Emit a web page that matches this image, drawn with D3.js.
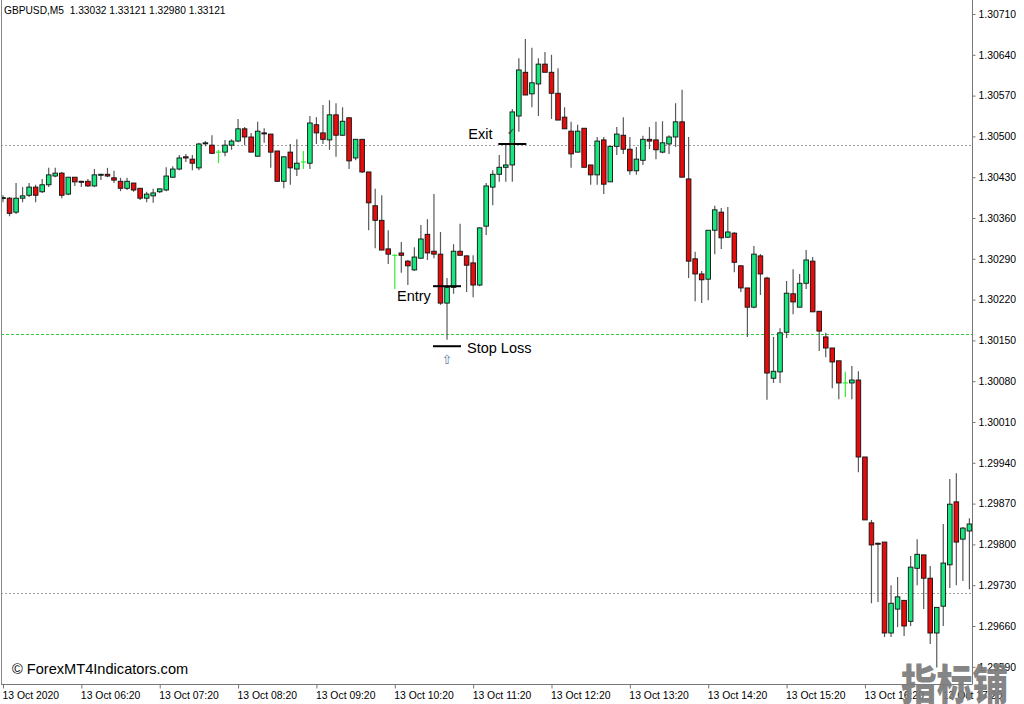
<!DOCTYPE html>
<html><head><meta charset="utf-8">
<script src="https://cdn.jsdelivr.net/npm/d3@7"></script>
<style>html,body{margin:0;padding:0;background:#fff;}svg{display:block;}</style>
</head><body>
<script>
const title = "GBPUSD,M5  1.33032 1.33121 1.32980 1.33121";
const open = [1.30394,1.30394,1.30370,1.30394,1.30399,1.30413,1.30405,1.30417,1.30432,1.30437,1.30401,1.30430,1.30423,1.30423,1.30415,1.30434,1.30435,1.30429,1.30423,1.30411,1.30420,1.30411,1.30394,1.30398,1.30405,1.30408,1.30430,1.30444,1.30465,1.30461,1.30446,1.30488,1.30485,1.30473,1.30473,1.30485,1.30492,1.30513,1.30499,1.30466,1.30506,1.30504,1.30475,1.30423,1.30473,1.30444,1.30456,1.30454,1.30520,1.30506,1.30494,1.30537,1.30502,1.30532,1.30463,1.30495,1.30439,1.30381,1.30356,1.30307,1.30296,1.30300,1.30286,1.30271,1.30291,1.30332,1.30303,1.30298,1.30214,1.30241,1.30303,1.30295,1.30283,1.30245,1.30346,1.30413,1.30435,1.30447,1.30451,1.30535,1.30610,1.30573,1.30590,1.30624,1.30610,1.30574,1.30533,1.30509,1.30473,1.30514,1.30451,1.30434,1.30494,1.30422,1.30483,1.30502,1.30478,1.30441,1.30459,1.30495,1.30494,1.30473,1.30487,1.30499,1.30525,1.30427,1.30290,1.30264,1.30255,1.30339,1.30370,1.30327,1.30334,1.30278,1.30240,1.30207,1.30295,1.30257,1.30085,1.30096,1.30164,1.30230,1.30207,1.30248,1.30286,1.30200,1.30156,1.30137,1.30115,1.30077,1.30077,1.30082,1.29950,1.29837,1.29802,1.29804,1.29648,1.29689,1.29704,1.29668,1.29759,1.29782,1.29742,1.29648,1.29694,1.29765,1.29873,1.29809,1.29823];
const high = [1.30399,1.30396,1.30420,1.30413,1.30420,1.30417,1.30427,1.30446,1.30446,1.30439,1.30430,1.30430,1.30424,1.30427,1.30444,1.30436,1.30446,1.30441,1.30429,1.30429,1.30420,1.30411,1.30405,1.30410,1.30410,1.30447,1.30449,1.30468,1.30470,1.30468,1.30489,1.30492,1.30502,1.30477,1.30494,1.30495,1.30530,1.30516,1.30506,1.30525,1.30514,1.30504,1.30475,1.30465,1.30487,1.30495,1.30475,1.30535,1.30533,1.30554,1.30562,1.30557,1.30550,1.30532,1.30495,1.30495,1.30439,1.30410,1.30399,1.30339,1.30298,1.30319,1.30288,1.30310,1.30348,1.30358,1.30401,1.30336,1.30257,1.30315,1.30350,1.30296,1.30296,1.30344,1.30420,1.30442,1.30468,1.30485,1.30547,1.30634,1.30667,1.30652,1.30634,1.30645,1.30640,1.30617,1.30550,1.30525,1.30520,1.30514,1.30451,1.30499,1.30499,1.30483,1.30516,1.30533,1.30499,1.30482,1.30501,1.30516,1.30525,1.30526,1.30502,1.30557,1.30580,1.30499,1.30302,1.30269,1.30339,1.30381,1.30377,1.30379,1.30336,1.30279,1.30240,1.30312,1.30298,1.30259,1.30156,1.30171,1.30252,1.30272,1.30264,1.30305,1.30293,1.30200,1.30163,1.30137,1.30115,1.30096,1.30106,1.30097,1.29950,1.29842,1.29803,1.29804,1.29730,1.29744,1.29704,1.29780,1.29809,1.29782,1.29763,1.29692,1.29835,1.29912,1.29922,1.29830,1.29845];
const low = [1.30387,1.30363,1.30367,1.30387,1.30396,1.30387,1.30403,1.30413,1.30430,1.30394,1.30399,1.30415,1.30413,1.30413,1.30413,1.30425,1.30430,1.30420,1.30406,1.30408,1.30405,1.30391,1.30387,1.30386,1.30403,1.30406,1.30429,1.30442,1.30456,1.30442,1.30442,1.30483,1.30470,1.30454,1.30466,1.30477,1.30490,1.30485,1.30473,1.30465,1.30489,1.30446,1.30422,1.30411,1.30417,1.30432,1.30444,1.30444,1.30487,1.30487,1.30477,1.30465,1.30501,1.30444,1.30459,1.30437,1.30339,1.30308,1.30305,1.30281,1.30238,1.30266,1.30245,1.30269,1.30290,1.30288,1.30291,1.30211,1.30151,1.30230,1.30296,1.30233,1.30224,1.30243,1.30331,1.30382,1.30422,1.30422,1.30422,1.30508,1.30571,1.30550,1.30535,1.30610,1.30530,1.30528,1.30513,1.30446,1.30473,1.30447,1.30417,1.30417,1.30401,1.30422,1.30468,1.30470,1.30434,1.30434,1.30451,1.30478,1.30461,1.30471,1.30470,1.30482,1.30430,1.30257,1.30217,1.30214,1.30219,1.30298,1.30307,1.30326,1.30267,1.30233,1.30156,1.30205,1.30228,1.30048,1.30077,1.30077,1.30154,1.30195,1.30207,1.30238,1.30199,1.30132,1.30121,1.30068,1.30049,1.30053,1.30049,1.29924,1.29842,1.29699,1.29701,1.29641,1.29641,1.29658,1.29643,1.29660,1.29730,1.29689,1.29629,1.29589,1.29660,1.29725,1.29730,1.29737,1.29723];
const close = [1.30395,1.30368,1.30394,1.30398,1.30413,1.30399,1.30417,1.30434,1.30437,1.30399,1.30430,1.30422,1.30422,1.30415,1.30434,1.30435,1.30432,1.30425,1.30411,1.30423,1.30408,1.30394,1.30401,1.30403,1.30410,1.30432,1.30444,1.30463,1.30463,1.30454,1.30487,1.30489,1.30471,1.30473,1.30485,1.30492,1.30513,1.30499,1.30473,1.30509,1.30505,1.30473,1.30423,1.30465,1.30446,1.30454,1.30456,1.30523,1.30506,1.30495,1.30537,1.30502,1.30526,1.30458,1.30495,1.30439,1.30386,1.30356,1.30305,1.30298,1.30296,1.30296,1.30278,1.30293,1.30324,1.30300,1.30298,1.30214,1.30241,1.30303,1.30296,1.30279,1.30245,1.30343,1.30415,1.30435,1.30447,1.30451,1.30542,1.30614,1.30571,1.30592,1.30624,1.30610,1.30574,1.30528,1.30513,1.30470,1.30509,1.30447,1.30434,1.30492,1.30418,1.30483,1.30504,1.30478,1.30441,1.30461,1.30495,1.30492,1.30477,1.30489,1.30499,1.30525,1.30430,1.30286,1.30264,1.30254,1.30339,1.30374,1.30326,1.30336,1.30284,1.30240,1.30207,1.30298,1.30264,1.30094,1.30097,1.30163,1.30231,1.30216,1.30248,1.30288,1.30199,1.30166,1.30137,1.30113,1.30077,1.30077,1.30082,1.29950,1.29842,1.29799,1.29801,1.29648,1.29699,1.29710,1.29660,1.29761,1.29783,1.29742,1.29648,1.29692,1.29768,1.29869,1.29804,1.29828,1.29835];

const priceTicks = [1.30710,1.30640,1.30570,1.30500,1.30430,1.30360,1.30290,1.30220,1.30150,1.30080,1.30010,1.29940,1.29870,1.29800,1.29730,1.29660,1.29590];
const timeTickIdx = [0,12,24,36,48,60,72,84,96,108,120,132,144];
const timeLabels = ["13 Oct 2020","13 Oct 06:20","13 Oct 07:20","13 Oct 08:20","13 Oct 09:20","13 Oct 10:20","13 Oct 11:20","13 Oct 12:20","13 Oct 13:20","13 Oct 14:20","13 Oct 15:20","13 Oct 16:20","13 Oct 17:20"];

const grayLevels = [1.30485, 1.29716];
const greenLevels = [1.30161];
const markNames = ["Exit","Entry","Stop Loss"];
const markIdx = [78, 68, 68];
const markPrice = [1.30487, 1.30243, 1.30140];

const W = 1024, H = 704;
const plotRight = 972, plotBottom = 684;
const FONT = "'Liberation Sans', Arial, sans-serif";

const x = d3.scaleLinear().domain([0, 148]).range([3, 969.4]);
const y = d3.scaleLinear().domain([1.29660, 1.30710]).range([626, 14]);

const svg = d3.select("body").append("svg").attr("width", W).attr("height", H)
  .style("font-family", FONT);
svg.append("rect").attr("width", W).attr("height", H).attr("fill", "#fff");

svg.append("defs").append("clipPath").attr("id", "plot")
  .append("rect").attr("x", 1).attr("y", 0).attr("width", plotRight - 1).attr("height", plotBottom);

const plot = svg.append("g").attr("clip-path", "url(#plot)");

plot.selectAll(".gl").data(grayLevels).enter().append("line")
  .attr("x1", 1).attr("x2", plotRight).attr("y1", d => Math.round(y(d)) + 0.5).attr("y2", d => Math.round(y(d)) + 0.5)
  .attr("stroke", "#a0a0a0").attr("stroke-width", 1).attr("stroke-dasharray", "2,2");
plot.selectAll(".gr").data(greenLevels).enter().append("line")
  .attr("x1", 1).attr("x2", plotRight).attr("y1", d => Math.round(y(d)) + 0.5).attr("y2", d => Math.round(y(d)) + 0.5)
  .attr("stroke", "#2ecc40").attr("stroke-width", 1).attr("stroke-dasharray", "3,2");

const candles = open.map((o, i) => ({i, o, h: high[i], l: low[i], c: close[i]}));

const cg = plot.selectAll(".c").data(candles).enter().append("g");
cg.append("line")
  .attr("x1", d => x(d.i)).attr("x2", d => x(d.i))
  .attr("y1", d => y(d.h)).attr("y2", d => y(d.l))
  .attr("stroke", d => d.o === d.c ? "#33ee33" : "#5a5a5a").attr("stroke-width", 1.2);
cg.filter(d => d.o === d.c).append("line")
  .attr("x1", d => x(d.i) - 2.5).attr("x2", d => x(d.i) + 2.5)
  .attr("y1", d => y(d.o)).attr("y2", d => y(d.o))
  .attr("stroke", "#33ee33").attr("stroke-width", 1.2);
cg.filter(d => d.o !== d.c).append("rect")
  .attr("x", d => x(d.i) - 2.3).attr("width", 4.6)
  .attr("y", d => Math.min(y(d.o), y(d.c)))
  .attr("height", d => Math.max(1, Math.abs(y(d.o) - y(d.c))))
  .attr("fill", d => d.c > d.o ? "#18e67e" : "#e50c0c")
  .attr("stroke", "#111").attr("stroke-width", 0.9);

const marks = markNames.map((n, k) => ({n, i: markIdx[k], p: markPrice[k]}));
plot.selectAll(".mk").data(marks).enter().append("line")
  .attr("x1", d => x(d.i) - 14).attr("x2", d => x(d.i) + 14)
  .attr("y1", d => y(d.p)).attr("y2", d => y(d.p))
  .attr("stroke", "#000").attr("stroke-width", 2);

const at = svg.append("g").attr("font-size", "14.5px").attr("fill", "#000");
at.append("text").attr("x", x(marks[0].i) - 44).attr("y", y(marks[0].p) - 5).text(marks[0].n);
at.append("text").attr("x", x(marks[1].i) - 50).attr("y", y(marks[1].p) + 15).text(marks[1].n);
at.append("text").attr("x", x(marks[2].i) + 20).attr("y", y(marks[2].p) + 7).text(marks[2].n);
svg.append("text").attr("x", x(marks[0].i) - 1).attr("y", y(marks[0].p) - 9)
  .attr("text-anchor", "middle").attr("font-size", "10px").attr("fill", "#333").text("✓");
svg.append("text").attr("x", x(marks[2].i)).attr("y", y(marks[2].p) + 18)
  .attr("text-anchor", "middle").attr("font-family", "'DejaVu Sans'").attr("font-size", "13px")
  .attr("fill", "#5b7fa8").text("⇧");

svg.append("line").attr("x1", 1.5).attr("x2", 1.5).attr("y1", 0).attr("y2", plotBottom).attr("stroke", "#888");
svg.append("line").attr("x1", plotRight + 0.5).attr("x2", plotRight + 0.5).attr("y1", 0).attr("y2", plotBottom + 0.5).attr("stroke", "#777");
svg.append("line").attr("x1", 1).attr("x2", plotRight + 0.5).attr("y1", plotBottom + 0.5).attr("y2", plotBottom + 0.5).attr("stroke", "#777");

const ya = svg.append("g").attr("transform", `translate(${plotRight + 0.5},0)`)
  .call(d3.axisRight(y).tickValues(priceTicks).tickFormat(d3.format(".5f")).tickSize(3).tickPadding(3));
ya.select(".domain").remove();
ya.selectAll(".tick line").attr("stroke", "#777");
ya.selectAll(".tick text").attr("font-family", FONT).attr("font-size", "10.4px").attr("fill", "#000");

const xa = svg.append("g").attr("transform", `translate(0,${plotBottom + 0.5})`)
  .call(d3.axisBottom(x).tickValues(timeTickIdx).tickFormat((d, k) => timeLabels[k]).tickSize(4).tickPadding(3));
xa.select(".domain").remove();
xa.selectAll(".tick line").attr("stroke", "#777");
xa.selectAll(".tick text").attr("font-family", FONT).attr("font-size", "10.4px").attr("fill", "#000")
  .attr("text-anchor", "start").attr("dx", "-1");

svg.append("text").attr("x", 4).attr("y", 14).attr("font-size", "10.2px").attr("fill", "#000")
  .attr("xml:space", "preserve").style("white-space", "pre").text(title);

svg.append("text").attr("x", 12).attr("y", 674).attr("font-size", "14.6px").attr("fill", "#000")
  .text("© ForexMT4Indicators.com");

svg.append("text").attr("transform", "translate(901,700) scale(1.02,1.2)")
  .attr("font-family", "'Noto Sans CJK SC'").attr("font-weight", "900").attr("font-size", "35px")
  .attr("fill", "#7d7d7d").attr("fill-opacity", 0.95).text("指标铺");
</script>
</body></html>
